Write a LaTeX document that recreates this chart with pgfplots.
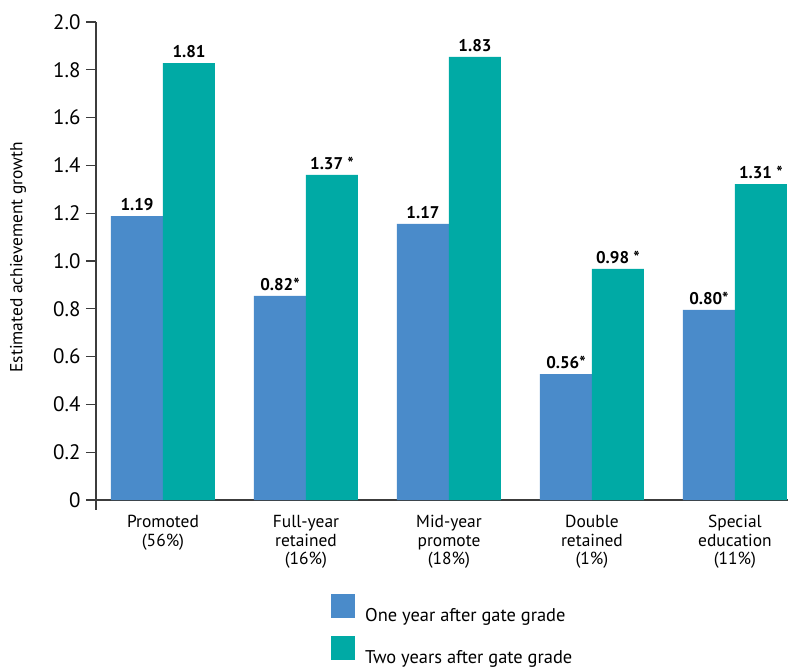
\documentclass[border=0pt]{standalone}
\usepackage{pgfplots}
\pgfplotsset{compat=1.18}
\usepackage{fontspec}
\setmainfont{PT Sans}
\definecolor{barblue}{HTML}{4A8BCA}
\definecolor{barteal}{HTML}{00AAA5}
\definecolor{axisgray}{HTML}{3C3C3C}
\begin{document}
\begin{tikzpicture}
\useasboundingbox (-96bp,-169bp) rectangle (701bp,500bp);
\begin{axis}[
  scale only axis,
  width=692bp, height=478bp,
  ymin=0, ymax=2,
  xmin=-0.4685, xmax=4.371,
  ybar=0pt, bar width=52bp,
  axis x line*=bottom, axis y line*=left,
  axis line style={axisgray, line width=1.1pt},
  xtick={0,1,2,3,4},
  xticklabels={{Promoted\\(56\%)},{Full-year\\retained\\(16\%)},{Mid-year\\promote\\(18\%)},{Double\\retained\\(1\%)},{Special\\education\\(11\%)}},
  xticklabel style={align=center, font=\fontsize{17.5}{18.5}\selectfont, yshift=-2bp},
  x tick style={draw=none},
  ytick={0,0.2,0.4,0.6,0.8,1.0,1.2,1.4,1.6,1.8,2.0},
  yticklabels={0,0.2,0.4,0.6,0.8,1.0,1.2,1.4,1.6,1.8,2.0},
  yticklabel style={font=\fontsize{21}{21}\selectfont, xshift=-2bp},
  y tick style={axisgray, line width=1.1pt},
  major tick length=10bp,
  tick align=outside,
  ylabel={Estimated achievement growth},
  ylabel style={font=\fontsize{17.5}{17.5}\selectfont, at={(axis description cs:-0.1127,0.508)}, anchor=center},
  point meta=explicit symbolic,
  nodes near coords,
  nodes near coords style={font=\fontsize{17}{17}\selectfont\bfseries, anchor=south, inner sep=3bp, yshift=2bp},
  legend style={draw=none, fill=none, at={(axis description cs:0.3396,-0.196)}, anchor=north west,
    inner sep=0pt, row sep=13bp, column sep=10bp, font=\fontsize{18.5}{18.5}\selectfont,
    nodes={inner sep=0pt}},
  legend cell align=left,
  legend image code/.code={\fill[#1] (0bp,-2bp) rectangle (24bp,22bp);},
  clip=false,
]
\addplot[fill=barblue, draw=none] coordinates {
  (0,1.188) [1.19]
  (1,0.854) [0.82*]
  (2,1.155) [1.17]
  (3,0.527) [0.56*]
  (4,0.795) [0.80*]
};
\addplot[fill=barteal, draw=none] coordinates {
  (0,1.828) [1.81]
  (1,1.360) [1.37 *]
  (2,1.854) [1.83]
  (3,0.967) [0.98 *]
  (4,1.322) [1.31 *]
};
\legend{One year after gate grade, Two years after gate grade}
\draw[axisgray, line width=1.1pt] (rel axis cs:0,0) -- ([yshift=-10bp]rel axis cs:0,0);
\end{axis}
\end{tikzpicture}
\end{document}
